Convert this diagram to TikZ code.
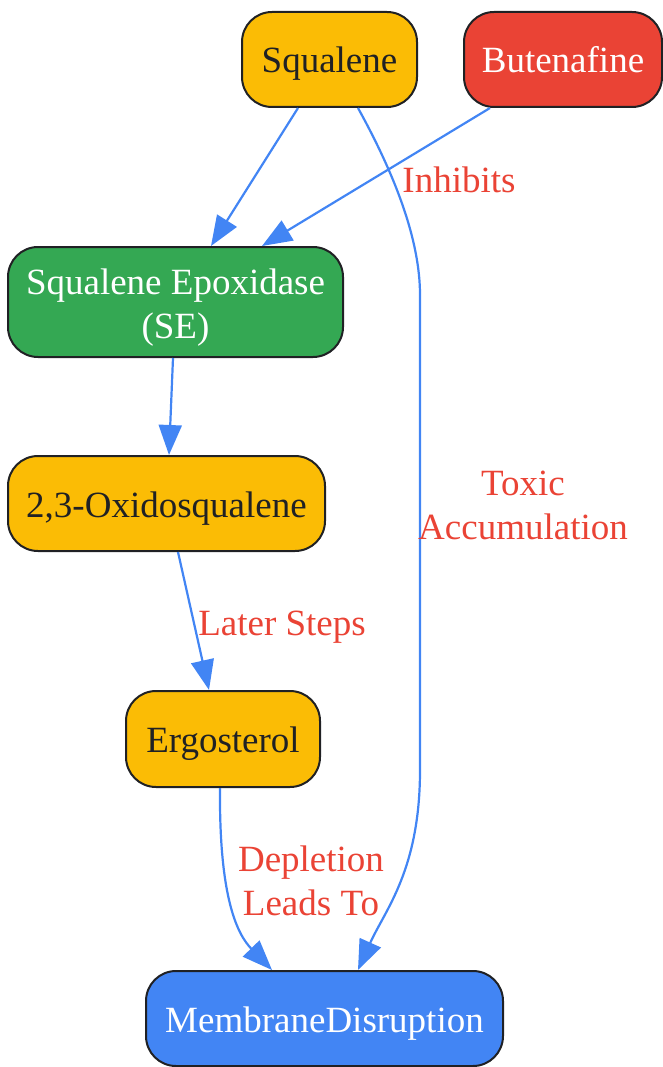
\documentclass[tikz,border=0pt]{standalone}
\usepackage{fontspec}
\setmainfont{Liberation Serif}
\usetikzlibrary{arrows.meta,calc}
\definecolor{gyellow}{HTML}{FBBC05}
\definecolor{gred}{HTML}{EA4335}
\definecolor{ggreen}{HTML}{34A853}
\definecolor{gblue}{HTML}{4285F4}
\definecolor{gdark}{HTML}{202124}
\begin{document}
\begin{tikzpicture}[x=1pt,y=-1pt,
  box/.style={draw=gdark,line width=2pt,rounded corners=30pt,align=center,
    font=\fontsize{37}{44}\selectfont,inner sep=0pt,text height=27pt,text depth=0pt},
  ybox/.style={box,fill=gyellow,text=gdark},
  rbox/.style={box,fill=gred,text=white},
  gbox/.style={box,fill=ggreen,text=white},
  bbox/.style={box,fill=gblue,text=white},
  conn/.style={draw=gblue,line width=2.2pt,-{Triangle[length=30pt,width=23pt]}},
  lbl/.style={text=gred,font=\fontsize{37}{44}\selectfont,align=center,inner sep=0pt}]
\useasboundingbox (0,0) rectangle (663,1067);
\node[ybox,minimum width=175pt,minimum height=95pt] (sq) at (329.5,59.5) {Squalene};
\node[rbox,minimum width=198pt,minimum height=95pt] (bu) at (563,59.5) {Butenafine};
\node[gbox,minimum width=335pt,minimum height=110pt,text height=72pt] (se) at (175.5,302) {Squalene Epoxidase\\(SE)};
\node[ybox,minimum width=317pt,minimum height=95pt] (ox) at (166.5,503.5) {2,3-Oxidosqualene};
\node[ybox,minimum width=194pt,minimum height=96pt] (er) at (223,739) {Ergosterol};
\node[bbox,minimum width=357pt,minimum height=95pt] (me) at (324.5,1018.5) {MembraneDisruption};

\draw[conn] ([xshift=-31.5pt]sq.south) -- ([xshift=35.5pt]se.north);
\draw[conn] ([xshift=-73pt]bu.south) -- ([xshift=86.5pt]se.north);
\draw[conn] ([xshift=-2.5pt]se.south) -- ([xshift=2.5pt]ox.north);
\draw[conn] ([xshift=11.5pt]ox.south) -- ([xshift=-14pt]er.north);
\draw[conn] ([xshift=-3pt]er.south) .. controls (219,900) and (238,935) .. ([xshift=-52.5pt]me.north);
\draw[conn] ([xshift=28.5pt]sq.south) .. controls (395,175) and (420,240) .. (420,295)
  -- (420,770) .. controls (420,870) and (385,910) .. ([xshift=33.5pt]me.north);

\node[lbl] (l1) at (459,180) {Inhibits};
\node[lbl] (l2) at (282,627) {Later Steps};
\node[lbl] (l3) at (311,881) {Depletion\\Leads To};
\node[lbl] (l4) at (523,505) {Toxic\\Accumulation};
\end{tikzpicture}
\end{document}
